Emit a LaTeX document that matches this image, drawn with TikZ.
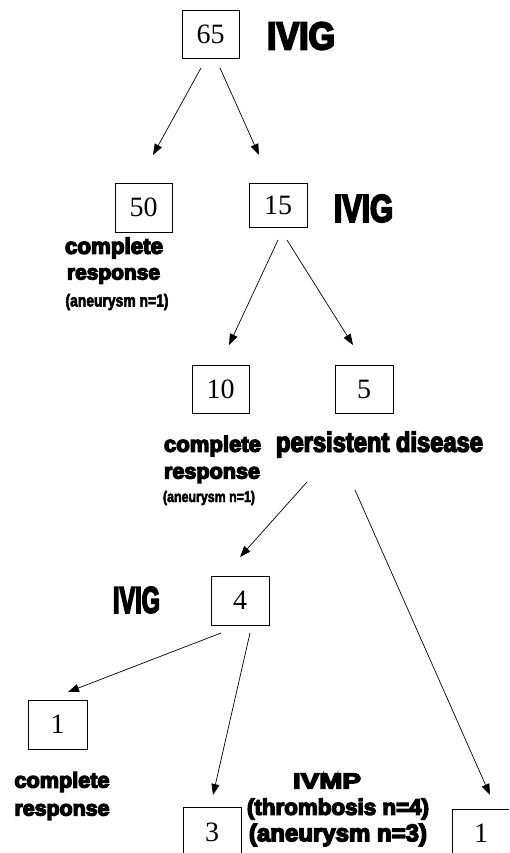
\documentclass[tikz,border=0pt]{standalone}
\usepackage{graphicx}
\usepackage{fontspec}
\setmainfont{Liberation Serif}
\newfontfamily\blkfam{Liberation Sans}[BoldFeatures={FakeBold=6}]
\newfontfamily\impfam{Liberation Sans}[BoldFeatures={FakeBold=5,FakeStretch=0.85}]
\newfontfamily\plbfam{Liberation Sans}[BoldFeatures={FakeBold=3,FakeStretch=0.8}]
\usetikzlibrary{arrows.meta}
\newcommand\fitw[2]{\resizebox{#1pt}{!}{#2}}
\newcommand\fitwh[3]{\resizebox{#1pt}{#2pt}{#3}}
\begin{document}
\begin{tikzpicture}[x=1pt,y=-1pt,
  numbox/.style={draw, line width=0.8pt, inner sep=0pt, minimum width=57pt, minimum height=48pt,
     font=\fontsize{28}{28}\selectfont},
  lbl/.style={inner sep=0pt, anchor=center},
  arr/.style={line width=0.7pt, -{Triangle[length=11pt,width=8pt]}}]
\useasboundingbox (0,0) rectangle (509,853);
\clip (0,0) rectangle (509,853);
% boxes
\node[numbox] (b65) at (210.5,34) {65};
\node[numbox, minimum height=49pt] (b50) at (143.5,207.5) {50};
\node[numbox, minimum width=58pt, minimum height=44pt] (b15) at (278,205) {15};
\node[numbox] (b10) at (220.5,389) {10};
\node[numbox, minimum width=58pt] (b5) at (364,389) {5};
\node[numbox, minimum width=58pt, minimum height=49pt] (b4) at (240,600.5) {4};
\node[numbox, minimum width=59pt, minimum height=49pt] (b1l) at (57.5,724.5) {1};
\node[numbox, minimum width=58pt, minimum height=50pt] (b3) at (212,832) {3};
\node[numbox, minimum width=58pt, minimum height=48pt] (b1r) at (481,833) {1};
% labels
\node[lbl] (iv1) at (301,36) {\fitwh{68}{27}{\impfam\bfseries IVIG}};
\node[lbl] (iv2) at (363.5,208.5) {\fitwh{59}{27}{\impfam\bfseries IVIG}};
\node[lbl] (iv3) at (136.5,600) {\fitwh{47}{26}{\impfam\bfseries IVIG}};
\node[lbl] (cp1) at (114,248) {\fitw{98}{\blkfam\bfseries complete}};
\node[lbl] (rs1) at (113.5,276) {\fitw{93}{\blkfam\bfseries response}};
\node[lbl] (an1) at (117,302) {\fitw{103}{\plbfam\bfseries (aneurysm n=1)}};
\node[lbl] (cp2) at (212.5,446) {\fitw{97}{\blkfam\bfseries complete}};
\node[lbl] (pd) at (379.5,444.5) {\fitw{207}{\impfam\bfseries persistent disease}};
\node[lbl] (rs2) at (212,475) {\fitw{96}{\blkfam\bfseries response}};
\node[lbl] (an2) at (209,498) {\fitw{92}{\plbfam\bfseries (aneurysm n=1)}};
\node[lbl] (cp3) at (62,782) {\fitw{95}{\blkfam\bfseries complete}};
\node[lbl] (rs3) at (62,812) {\fitw{95}{\blkfam\bfseries response}};
\node[lbl] (ivmp) at (327,781) {\fitwh{68}{15}{\blkfam\bfseries IVMP}};
\node[lbl] (thr) at (338,809) {\fitw{182}{\blkfam\bfseries (thrombosis n=4)}};
\node[lbl] (an3) at (338,835) {\fitw{178}{\blkfam\bfseries (aneurysm n=3)}};
% connector end points
\coordinate (c1s) at (201,68);  \coordinate (c1e) at (153,155);
\coordinate (c2s) at (220,68);  \coordinate (c2e) at (259,155);
\coordinate (c3s) at (278,240); \coordinate (c3e) at (229,345);
\coordinate (c4s) at (287,240); \coordinate (c4e) at (353,345);
\coordinate (c5s) at (307,482); \coordinate (c5e) at (240,557);
\coordinate (c6s) at (355,490); \coordinate (c6e) at (490,795);
\coordinate (c7s) at (221,633); \coordinate (c7e) at (68,692);
\coordinate (c8s) at (250,633); \coordinate (c8e) at (213,795);
\draw[arr] (c1s) -- (c1e);
\draw[arr] (c2s) -- (c2e);
\draw[arr] (c3s) -- (c3e);
\draw[arr] (c4s) -- (c4e);
\draw[arr] (c5s) -- (c5e);
\draw[arr] (c6s) -- (c6e);
\draw[arr] (c7s) -- (c7e);
\draw[arr] (c8s) -- (c8e);
\end{tikzpicture}
\end{document}
